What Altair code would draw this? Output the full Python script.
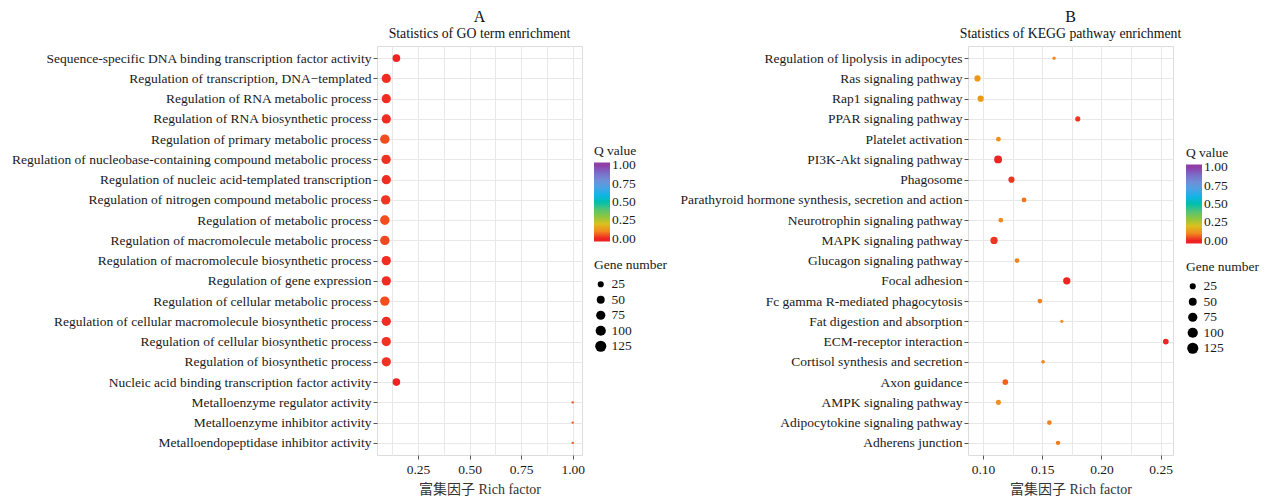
import altair as alt
import pandas as pd

FONT = "Liberation Serif, Noto Sans CJK SC, serif"

go_terms = [
    "Sequence-specific DNA binding transcription factor activity",
    "Regulation of transcription, DNA\u2212templated",
    "Regulation of RNA metabolic process",
    "Regulation of RNA biosynthetic process",
    "Regulation of primary metabolic process",
    "Regulation of nucleobase-containing compound metabolic process",
    "Regulation of nucleic acid-templated transcription",
    "Regulation of nitrogen compound metabolic process",
    "Regulation of metabolic process",
    "Regulation of macromolecule metabolic process",
    "Regulation of macromolecule biosynthetic process",
    "Regulation of gene expression",
    "Regulation of cellular metabolic process",
    "Regulation of cellular macromolecule biosynthetic process",
    "Regulation of cellular biosynthetic process",
    "Regulation of biosynthetic process",
    "Nucleic acid binding transcription factor activity",
    "Metalloenzyme regulator activity",
    "Metalloenzyme inhibitor activity",
    "Metalloendopeptidase inhibitor activity",
]
go_rich = [0.145, 0.096, 0.096, 0.096, 0.089, 0.095, 0.096, 0.093, 0.089, 0.089,
           0.096, 0.096, 0.089, 0.096, 0.096, 0.096, 0.145, 1.0, 1.0, 1.0]
go_genes = [45, 75, 75, 75, 80, 78, 75, 78, 82, 80,
            75, 76, 80, 75, 75, 75, 45, 2, 2, 2]
go_q = [0.0, 0.005, 0.005, 0.005, 0.03, 0.008, 0.005, 0.01, 0.03, 0.025,
        0.005, 0.005, 0.03, 0.005, 0.008, 0.008, 0.0, 0.04, 0.04, 0.04]

kegg_terms = [
    "Regulation of lipolysis in adipocytes",
    "Ras signaling pathway",
    "Rap1 signaling pathway",
    "PPAR signaling pathway",
    "Platelet activation",
    "PI3K-Akt signaling pathway",
    "Phagosome",
    "Parathyroid hormone synthesis, secretion and action",
    "Neurotrophin signaling pathway",
    "MAPK signaling pathway",
    "Glucagon signaling pathway",
    "Focal adhesion",
    "Fc gamma R-mediated phagocytosis",
    "Fat digestion and absorption",
    "ECM-receptor interaction",
    "Cortisol synthesis and secretion",
    "Axon guidance",
    "AMPK signaling pathway",
    "Adipocytokine signaling pathway",
    "Adherens junction",
]
kegg_rich = [0.160, 0.0953, 0.098, 0.180, 0.113, 0.1127, 0.124, 0.1346, 0.115, 0.1093,
             0.1287, 0.1707, 0.148, 0.1665, 0.2543, 0.1507, 0.1188, 0.113, 0.156, 0.1633]
kegg_genes = [5, 25, 25, 15, 12, 50, 25, 12, 12, 40,
              12, 40, 12, 4, 20, 6, 20, 15, 12, 10]
kegg_q = [0.1, 0.12, 0.12, 0.01, 0.11, 0.0, 0.01, 0.07, 0.1, 0.01,
          0.09, 0.0, 0.09, 0.11, 0.0, 0.1, 0.05, 0.11, 0.09, 0.08]

# colour bar stops (the bar runs slightly past 0 and 1, as in the original)
q_stops = [-0.041, 0, 0.1, 0.2, 0.3, 0.45, 0.6, 0.8, 1.0, 1.041]
q_colors = ["#ee2424", "#ee2424", "#f28a1f", "#d9c21e", "#8dc63f", "#3cbf8a",
            "#11b4e6", "#6f8fd6", "#8e3fa8", "#8e3fa8"]

label_col = "#1a1a1a"
FS = 13.5


def panel(terms, rich, genes, q, letter, subtitle, xdomain, xvals, major_test, legx, legy_c, legy_s):
    df = pd.DataFrame({"term": terms, "rich": rich, "genes": genes, "q": q})
    return alt.Chart(df).mark_circle(opacity=1).encode(
        x=alt.X("rich:Q",
                scale=alt.Scale(domain=xdomain, nice=False, zero=False),
                axis=alt.Axis(values=xvals, title="富集因子 Rich factor",
                              labelExpr=f"({major_test}) ? format(datum.value, '.2f') : ''",
                              tickOpacity={"condition": {"test": major_test, "value": 1}, "value": 0},
                              labelFont=FONT, labelFontSize=FS, labelColor=label_col,
                              titleFont=FONT, titleFontSize=14, titleFontWeight="normal",
                              titleColor="#333", titlePadding=7,
                              tickColor="#555", tickSize=4, labelPadding=3,
                              grid=True, gridColor="#e8e8e8", domain=False, labelFlush=False)),
        y=alt.Y("term:N", sort=terms,
                scale=alt.Scale(type="point", padding=0.6),
                axis=alt.Axis(title=None, labelFont=FONT, labelFontSize=FS, labelColor=label_col,
                              tickColor="#555", tickSize=4, labelPadding=2, labelLimit=500,
                              grid=True, gridColor="#e8e8e8", domain=False)),
        color=alt.Color("q:Q",
                        scale=alt.Scale(domain=q_stops, range=q_colors),
                        legend=alt.Legend(title="Q value", orient="none", legendX=legx, legendY=legy_c,
                                          direction="vertical", gradientLength=79, gradientThickness=16,
                                          values=[0, 0.25, 0.5, 0.75, 1.0], format=".2f",
                                          labelOverlap=False,
                                          labelFont=FONT, labelFontSize=FS,
                                          labelColor=label_col, titleFont=FONT, titleFontSize=FS,
                                          titleFontWeight="normal", titleColor=label_col,
                                          gradientStrokeWidth=0, titlePadding=5)),
        size=alt.Size("genes:Q",
                      scale=alt.Scale(type="pow", exponent=0.73, domain=[0, 130], range=[0, 126.6]),
                      legend=alt.Legend(title="Gene number", orient="none", legendX=legx, legendY=legy_s,
                                        values=[25, 50, 75, 100, 125], symbolType="circle",
                                        symbolFillColor="black", symbolStrokeColor="black",
                                        symbolStrokeWidth=0, symbolOpacity=1,
                                        labelFont=FONT, labelFontSize=FS, labelColor=label_col,
                                        titleFont=FONT, titleFontSize=FS, titleFontWeight="normal",
                                        titleColor=label_col, rowPadding=0.5, titlePadding=6)),
    ).properties(
        width=205, height=409,
        title=alt.TitleParams(letter, subtitle=subtitle, anchor="middle", frame="group",
                              font=FONT, fontSize=16, fontWeight="normal", color="#111",
                              subtitleFont=FONT, subtitleFontSize=13.75, subtitleColor="#111",
                              subtitlePadding=2, offset=5),
    )


left = panel(go_terms, go_rich, go_genes, go_q, "A", "Statistics of GO term enrichment",
             [0.051, 1.045], [0.125, 0.25, 0.375, 0.5, 0.625, 0.75, 0.875, 1.0],
             "round(datum.value * 8) % 2 == 0", 217, 98, 212)
right = panel(kegg_terms, kegg_rich, kegg_genes, kegg_q, "B", "Statistics of KEGG pathway enrichment",
              [0.0873, 0.2604], [0.1, 0.125, 0.15, 0.175, 0.2, 0.225, 0.25],
              "round(datum.value * 40) % 2 == 0", 218, 100, 214)

chart = alt.hconcat(left, right, spacing=386, bounds="flush").resolve_scale(
    x="independent", y="independent", color="independent", size="independent"
).resolve_legend(color="independent", size="independent").properties(
    padding={"left": 2, "top": 0, "right": 0, "bottom": 0}
).configure_view(stroke="#8c8c8c", strokeWidth=1).configure(background="white")

chart.save("out.html", embed_options={"renderer": "svg", "actions": False})
